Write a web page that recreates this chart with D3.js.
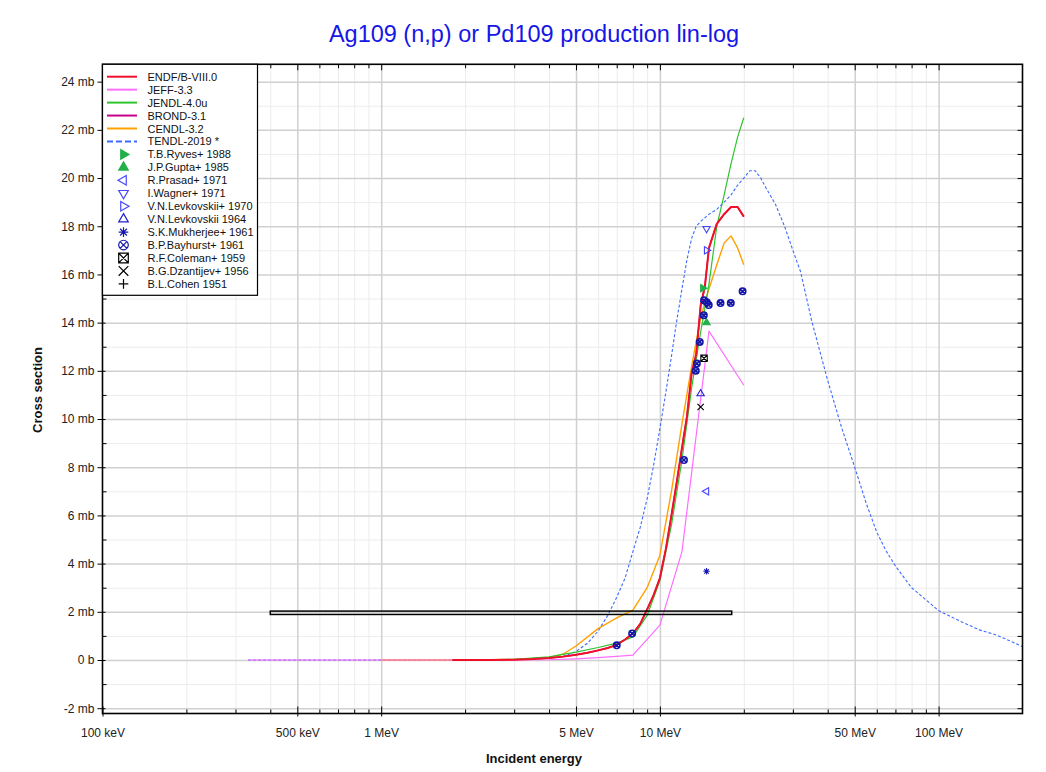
<!DOCTYPE html>
<html>
<head>
<meta charset="utf-8">
<script src="https://cdn.jsdelivr.net/npm/d3@7/dist/d3.min.js"></script>
<style>
  html, body { margin: 0; padding: 0; background: #ffffff; }
  svg { display: block; font-family: "Liberation Sans", Arial, sans-serif; }
</style>
</head>
<body>
<svg id="chart" width="1046" height="772"></svg>
<script>
// ---------------- data (energy in MeV, cross section in mb) ----------------
const titleText = "Ag109 (n,p) or Pd109 production lin-log";
const xAxisTitle = "Incident energy";
const yAxisTitle = "Cross section";

const xTickValues = [0.1, 0.5, 1, 5, 10, 50, 100];
const xTickLabels = ["100 keV", "500 keV", "1 MeV", "5 MeV", "10 MeV", "50 MeV", "100 MeV"];
const yTickValues = [-2, 0, 2, 4, 6, 8, 10, 12, 14, 16, 18, 20, 22, 24];
const yTickLabels = ["-2 mb", "0 b", "2 mb", "4 mb", "6 mb", "8 mb", "10 mb", "12 mb", "14 mb", "16 mb", "18 mb", "20 mb", "22 mb", "24 mb"];

const endf = [[1.8,0],[2.5,0.005],[3,0.015],[3.5,0.04],[4,0.08],[4.5,0.14],[5,0.22],[5.5,0.3],[6,0.4],[6.5,0.5],[7,0.63],[7.5,0.85],[8,1.1],[8.5,1.5],[9,2.1],[9.5,2.7],[10,3.4],[10.5,4.6],[11,6.0],[11.5,7.4],[12,8.8],[12.5,10.1],[13,11.9],[13.5,12.7],[14,14.7],[14.5,15.5],[15,17.1],[16,18.1],[17,18.5],[18,18.8],[19,18.8],[20,18.4]];
const jeff = [[0.333,0],[1,0],[2,0],[3,0],[4,0.01],[5,0.05],[6,0.1],[7,0.15],[8,0.2],[10,1.45],[12,4.5],[15,13.65],[20,11.4]];
const jendl = [[2,0],[3,0.03],[4,0.13],[5,0.33],[6,0.52],[7,0.7],[8,0.96],[9,1.85],[10,3.3],[11,5.6],[12,8.3],[13,11.3],[14,13.6],[15,15.6],[16,18.0],[17,19.3],[18,20.6],[19,21.7],[20,22.5]];
const brond = [[1.8,0],[2.5,0.005],[3,0.015],[3.5,0.04],[4,0.08],[4.5,0.14],[5,0.22],[5.5,0.3],[6,0.4],[6.5,0.5],[7,0.63],[7.5,0.85],[8,1.1],[8.5,1.5],[9,2.1],[9.5,2.7],[10,3.4],[10.5,4.6],[11,6.0],[11.5,7.4],[12,8.8],[12.5,10.1],[13,11.9],[13.5,12.7],[14,14.7],[14.5,15.5],[15,17.1],[16,18.1],[17,18.5],[18,18.8],[19,18.8],[20,18.4]];
const cendl = [[1,0],[2,0],[3,0.02],[4,0.1],[4.5,0.25],[5,0.58],[6,1.3],[7,1.75],[8,2.07],[9,3.0],[10,4.35],[11,7.0],[12,9.8],[13,12.2],[14,14.2],[15,15.4],[16,16.4],[17,17.3],[18,17.6],[19,17.1],[20,16.4]];
const tendl = [[0.333,0],[1,0],[2,0],[3,0.01],[4,0.08],[4.5,0.15],[5,0.35],[5.5,0.7],[6,1.2],[6.5,1.85],[7,2.6],[7.5,3.4],[8,4.5],[8.5,5.5],[9,6.7],[9.5,8.1],[10,9.6],[10.5,11.1],[11,12.6],[11.5,14.1],[12,15.4],[12.5,16.6],[13,17.5],[13.5,18.0],[14,18.2],[15,18.5],[16,18.7],[17,19.0],[18,19.3],[19,19.7],[20,20.0],[21,20.3],[22,20.3],[23,20.0],[24,19.6],[26,18.9],[28,18.0],[30,17.0],[32,16.1],[35,14.1],[40,11.6],[45,9.6],[50,8.0],[55,6.5],[60,5.3],[65,4.5],[70,3.9],[80,3.0],[90,2.5],[100,2.05],[120,1.6],[140,1.25],[160,1.05],[180,0.8],[200,0.55]];

const ryves = [[14.25,15.43]];
const gupta = [[14.7,14.0]];
const prasad = [[14.7,7.0]];
const wagner = [[14.7,17.9]];
const levk1970 = [[14.7,17.0]];
const levk1964 = [[14.0,11.05]];
const mukherjee = [[14.7,3.68]];
const bayhurst = [[7.0,0.61],[7.95,1.1],[12.2,8.3],[13.45,12.0],[13.57,12.3],[13.9,13.2],[14.37,14.31],[14.4,14.93],[14.73,14.85],[14.97,14.73],[16.5,14.81],[17.96,14.81],[19.8,15.3]];
const coleman = [[14.4,12.52]];
const dzantijev = [[14.0,10.5]];
// Cohen 1951: energy range low, high, cross section, uncertainty
const cohen = [[0.4,18.1,1.96,0.07]];

// ---------------- setup ----------------
const svg = d3.select("#chart");
const W = 1046, H = 772;
const plot = {left: 102.5, right: 1022.5, top: 64.3, bottom: 713.5};

const x = d3.scaleLog().domain([0.1, 200]).range([plot.left, plot.right]);
const y = d3.scaleLinear().domain([-2.22, 24.72]).range([plot.bottom, plot.top]);

svg.append("rect").attr("width", W).attr("height", H).attr("fill", "#fff");

// gridlines
const minorX = [];
[0.1, 1, 10, 100].forEach(d => { for (let k = 1; k <= 9; k++) { const v = d * k; if (v > 0.1 && v < 200 && !xTickValues.includes(+v.toPrecision(6))) minorX.push(+v.toPrecision(6)); } });
const majorX = xTickValues.filter(v => v > 0.1);
const minorY = d3.range(-1, 25, 2);
const majorY = yTickValues.filter(v => v > -2.22 && v < 24.72);

const grid = svg.append("g");
grid.append("g").attr("transform", `translate(0,${plot.bottom})`)
  .call(d3.axisBottom(x).tickValues(minorX).tickSize(-(plot.bottom - plot.top)).tickFormat(""))
  .call(g => { g.select(".domain").remove(); g.selectAll("line").attr("stroke", "#ececec").attr("stroke-width", 1); });
grid.append("g").attr("transform", `translate(${plot.left},0)`)
  .call(d3.axisLeft(y).tickValues(minorY).tickSize(-(plot.right - plot.left)).tickFormat(""))
  .call(g => { g.select(".domain").remove(); g.selectAll("line").attr("stroke", "#ececec").attr("stroke-width", 1); });
grid.append("g").attr("transform", `translate(0,${plot.bottom})`)
  .call(d3.axisBottom(x).tickValues(majorX).tickSize(-(plot.bottom - plot.top)).tickFormat(""))
  .call(g => { g.select(".domain").remove(); g.selectAll("line").attr("stroke", "#d0d0d0").attr("stroke-width", 1.5); });
grid.append("g").attr("transform", `translate(${plot.left},0)`)
  .call(d3.axisLeft(y).tickValues(majorY).tickSize(-(plot.right - plot.left)).tickFormat(""))
  .call(g => { g.select(".domain").remove(); g.selectAll("line").attr("stroke", "#d0d0d0").attr("stroke-width", 1.5); });

// clip
svg.append("defs").append("clipPath").attr("id", "clip")
  .append("rect").attr("x", plot.left).attr("y", plot.top)
  .attr("width", plot.right - plot.left).attr("height", plot.bottom - plot.top);

const line = d3.line().x(d => x(d[0])).y(d => y(d[1]));
const curves = svg.append("g").attr("clip-path", "url(#clip)");

const curveDefs = [
  {name: "TENDL-2019 *", data: tendl, color: "#3d6bff", width: 1.1, dash: "3,2", legendDash: "6,3"},
  {name: "CENDL-3.2", data: cendl, color: "#ffa000", width: 1.4},
  {name: "BROND-3.1", data: brond, color: "#c8008c", width: 1.4},
  {name: "JENDL-4.0u", data: jendl, color: "#2ec42e", width: 1.2},
  {name: "JEFF-3.3", data: jeff, color: "#ff6eff", width: 1.2},
  {name: "ENDF/B-VIII.0", data: endf, color: "#f0102a", width: 2}
];
curveDefs.forEach(c => {
  curves.append("path").datum(c.data).attr("d", line)
    .attr("fill", "none").attr("stroke", c.color).attr("stroke-width", c.width)
    .attr("stroke-dasharray", c.dash || null).attr("stroke-linejoin", "round");
});

// Cohen energy-range box
curves.selectAll(".cohen").data(cohen).enter().append("rect")
  .attr("x", d => x(d[0])).attr("width", d => x(d[1]) - x(d[0]))
  .attr("y", d => y(d[2] + d[3])).attr("height", d => y(d[2] - d[3]) - y(d[2] + d[3]))
  .attr("fill", "none").attr("stroke", "#000").attr("stroke-width", 1.5);

// ---------------- markers ----------------
function markerPath(type, s) {
  const p = d3.path();
  const tri = (ang) => {
    const pts = [0, 120, 240].map(a => {
      const r = (a + ang) * Math.PI / 180;
      return [s * Math.sin(r), -s * Math.cos(r)];
    });
    p.moveTo(pts[0][0], pts[0][1]); p.lineTo(pts[1][0], pts[1][1]); p.lineTo(pts[2][0], pts[2][1]); p.closePath();
  };
  switch (type) {
    case "triUp": tri(0); break;
    case "triDown": tri(180); break;
    case "triRight": tri(90); break;
    case "triLeft": tri(270); break;
    case "asterisk":
      for (let a = 0; a < 180; a += 45) {
        const r = a * Math.PI / 180;
        p.moveTo(-s * Math.cos(r), -s * Math.sin(r)); p.lineTo(s * Math.cos(r), s * Math.sin(r));
      }
      break;
    case "circleX": {
      p.moveTo(s, 0); p.arc(0, 0, s, 0, 2 * Math.PI);
      const k = s * 0.7;
      p.moveTo(-k, -k); p.lineTo(k, k); p.moveTo(-k, k); p.lineTo(k, -k);
      break;
    }
    case "squareX":
      p.rect(-s, -s, 2 * s, 2 * s);
      p.moveTo(-s, -s); p.lineTo(s, s); p.moveTo(-s, s); p.lineTo(s, -s);
      break;
    case "times":
      p.moveTo(-s, -s); p.lineTo(s, s); p.moveTo(-s, s); p.lineTo(s, -s);
      break;
    case "plus":
      p.moveTo(-s, 0); p.lineTo(s, 0); p.moveTo(0, -s); p.lineTo(0, s);
      break;
  }
  return p.toString();
}

const pointDefs = [
  {name: "T.B.Ryves+ 1988", data: ryves, type: "triRight", color: "#22b04a", fill: true},
  {name: "J.P.Gupta+ 1985", data: gupta, type: "triUp", color: "#22b04a", fill: true},
  {name: "R.Prasad+ 1971", data: prasad, type: "triLeft", color: "#4646ff", fill: false},
  {name: "I.Wagner+ 1971", data: wagner, type: "triDown", color: "#4646ff", fill: false},
  {name: "V.N.Levkovskii+ 1970", data: levk1970, type: "triRight", color: "#4646ff", fill: false},
  {name: "V.N.Levkovskii 1964", data: levk1964, type: "triUp", color: "#2020d0", fill: false},
  {name: "S.K.Mukherjee+ 1961", data: mukherjee, type: "asterisk", color: "#1515b0", fill: false},
  {name: "B.P.Bayhurst+ 1961", data: bayhurst, type: "circleX", color: "#1515a8", fill: false},
  {name: "R.F.Coleman+ 1959", data: coleman, type: "squareX", color: "#000000", fill: false},
  {name: "B.G.Dzantijev+ 1956", data: dzantijev, type: "times", color: "#000000", fill: false},
  {name: "B.L.Cohen 1951", data: [], type: "plus", color: "#000000", fill: false}
];

const marks = svg.append("g").attr("clip-path", "url(#clip)");
pointDefs.forEach(pd => {
  const sz = pd.type.startsWith("tri") ? 4.2 : 3.2;
  marks.selectAll(null).data(pd.data).enter().append("path")
    .attr("transform", d => `translate(${x(d[0])},${y(d[1])})`)
    .attr("d", markerPath(pd.type, sz))
    .attr("fill", pd.fill ? pd.color : (pd.type === "squareX" ? "#fff" : "none"))
    .attr("stroke", pd.color).attr("stroke-width", pd.type === "circleX" ? 1.6 : 1.1);
});

// ---------------- axes & frame ----------------
svg.append("rect").attr("x", plot.left).attr("y", plot.top)
  .attr("width", plot.right - plot.left).attr("height", plot.bottom - plot.top)
  .attr("fill", "none").attr("stroke", "#000").attr("stroke-width", 1.6);

function styleAxis(g) { g.select(".domain").remove(); g.selectAll("line").attr("stroke", "#000").attr("stroke-width", 1); }

// bottom: minor inside ticks
svg.append("g").attr("transform", `translate(0,${plot.bottom})`)
  .call(d3.axisBottom(x).tickValues(minorX).tickSize(-4).tickFormat("")).call(styleAxis);
svg.append("g").attr("transform", `translate(0,${plot.bottom})`)
  .call(d3.axisBottom(x).tickValues(xTickValues).tickSize(-7).tickFormat("")).call(styleAxis);
// bottom labels
svg.append("g").attr("transform", `translate(0,${plot.bottom})`)
  .call(d3.axisBottom(x).tickValues(xTickValues).tickSize(3).tickPadding(12)
    .tickFormat((d, i) => xTickLabels[i]))
  .call(styleAxis)
  .call(g => g.selectAll("text").attr("font-size", 12).attr("fill", "#222")
    .attr("font-family", "'Liberation Sans', Arial, sans-serif"));
// top ticks
svg.append("g").attr("transform", `translate(0,${plot.top})`)
  .call(d3.axisTop(x).tickValues(minorX).tickSize(-4).tickFormat("")).call(styleAxis);
svg.append("g").attr("transform", `translate(0,${plot.top})`)
  .call(d3.axisTop(x).tickValues(majorX).tickSize(-6).tickFormat("")).call(styleAxis);

// left ticks
svg.append("g").attr("transform", `translate(${plot.left},0)`)
  .call(d3.axisLeft(y).tickValues(minorY).tickSize(-4).tickFormat("")).call(styleAxis);
svg.append("g").attr("transform", `translate(${plot.left},0)`)
  .call(d3.axisLeft(y).tickValues(yTickValues).tickSize(-3).tickFormat("")).call(styleAxis);
svg.append("g").attr("transform", `translate(${plot.left},0)`)
  .call(d3.axisLeft(y).tickValues(yTickValues).tickSize(5).tickPadding(3)
    .tickFormat((d, i) => yTickLabels[i]))
  .call(styleAxis)
  .call(g => g.selectAll("text").attr("font-size", 12).attr("fill", "#222")
    .attr("font-family", "'Liberation Sans', Arial, sans-serif"));
// right ticks
svg.append("g").attr("transform", `translate(${plot.right},0)`)
  .call(d3.axisRight(y).tickValues(d3.range(-2, 25, 1)).tickSize(-5).tickFormat("")).call(styleAxis);

// ---------------- titles ----------------
svg.append("text").attr("x", 534).attr("y", 42).attr("text-anchor", "middle")
  .attr("font-size", 23.5).attr("fill", "#1616e6").text(titleText);
svg.append("text").attr("x", 534).attr("y", 763).attr("text-anchor", "middle")
  .attr("font-size", 13).attr("font-weight", "bold").attr("fill", "#111").text(xAxisTitle);
svg.append("text").attr("transform", "translate(42,390) rotate(-90)").attr("text-anchor", "middle")
  .attr("font-size", 13).attr("font-weight", "bold").attr("fill", "#111").text(yAxisTitle);

// ---------------- legend ----------------
const lg = svg.append("g");
lg.append("rect").attr("x", plot.left).attr("y", plot.top).attr("width", 155).attr("height", 231)
  .attr("fill", "#fff").attr("stroke", "#000").attr("stroke-width", 1.2);
const legendOrder = curveDefs.slice().reverse();
const rowY = i => 76.7 + i * 12.95;
legendOrder.forEach((c, i) => {
  const yy = rowY(i);
  lg.append("line").attr("x1", 107).attr("x2", 137).attr("y1", yy).attr("y2", yy)
    .attr("stroke", c.color).attr("stroke-width", 2).attr("stroke-dasharray", c.legendDash || null);
  lg.append("text").attr("x", 147.5).attr("y", yy + 4).attr("font-size", 11).attr("fill", "#111").text(c.name);
});
pointDefs.forEach((pd, j) => {
  const yy = rowY(j + legendOrder.length);
  const sz = pd.type.startsWith("tri") ? 5.5 : 4.8;
  lg.append("path").attr("transform", `translate(123.5,${yy})`)
    .attr("d", markerPath(pd.type, sz))
    .attr("fill", pd.fill ? pd.color : "none")
    .attr("stroke", pd.color).attr("stroke-width", 1.2);
  lg.append("text").attr("x", 147.5).attr("y", yy + 4).attr("font-size", 11).attr("fill", "#111").text(pd.name);
});
</script>
</body>
</html>
